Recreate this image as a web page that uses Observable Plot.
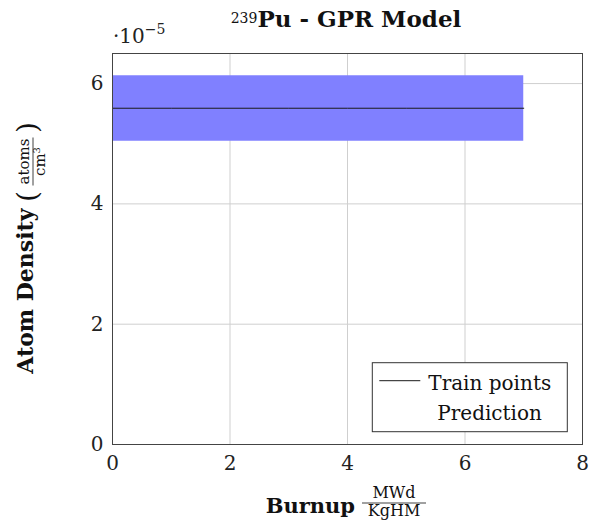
<!DOCTYPE html>
<html>
<head>
<meta charset="utf-8">
<script src="https://cdn.jsdelivr.net/npm/d3@7"></script>
<script src="https://cdn.jsdelivr.net/npm/@observablehq/plot@0.6"></script>
<style>
  html, body { margin: 0; padding: 0; background: #fff; }
  #chart svg { display: block; }
</style>
</head>
<body>
<div id="chart"></div>
<script>
// ---- data ----
const burnup = [0, 1, 2, 3, 4, 5, 6, 7];
const meanDensity  = [5.59e-5, 5.59e-5, 5.59e-5, 5.59e-5, 5.59e-5, 5.59e-5, 5.59e-5, 5.59e-5];
const lowerDensity = [5.04e-5, 5.04e-5, 5.04e-5, 5.04e-5, 5.04e-5, 5.04e-5, 5.04e-5, 5.04e-5];
const upperDensity = [6.13e-5, 6.13e-5, 6.13e-5, 6.13e-5, 6.13e-5, 6.13e-5, 6.13e-5, 6.13e-5];
const xTicks = [0, 2, 4, 6, 8];
const yTicks = [0, 2e-5, 4e-5, 6e-5];
const yTickLabels = ["0", "2", "4", "6"];
const legendLabels = ["Train points", "Prediction"];

const rows = burnup.map((b, i) => ({burnup: b, mean: meanDensity[i], lo: lowerDensity[i], hi: upperDensity[i]}));

const W = 589, H = 521;
const mL = 112, mR = 7, mT = 53, mB = 77;
const serif = "DejaVu Serif";

const fig = Plot.plot({
  width: W, height: H,
  marginLeft: mL, marginRight: mR, marginTop: mT, marginBottom: mB,
  style: {fontFamily: serif, fontSize: "20px", color: "#222", background: "#fff"},
  x: {domain: [0, 8]},
  y: {domain: [0, 6.5e-5]},
  marks: [
    Plot.gridX(xTicks, {stroke: "#cfcfcf", strokeOpacity: 1}),
    Plot.gridY(yTicks, {stroke: "#cfcfcf", strokeOpacity: 1}),
    Plot.areaY(rows, {x: "burnup", y1: "lo", y2: "hi", fill: "#8080ff", fillOpacity: 1}),
    Plot.lineY(rows, {x: "burnup", y: "mean", stroke: "#1a1a1a", strokeWidth: 1}),
    Plot.frame({stroke: "#444", strokeWidth: 1}),
    Plot.axisX({ticks: xTicks, tickSize: 0, tickPadding: 11, label: null, fontSize: 20, tickFormat: d => String(d)}),
    Plot.axisY({ticks: yTicks, tickSize: 0, tickPadding: 9, label: null, fontSize: 20,
      tickFormat: d => yTickLabels[yTicks.indexOf(d)]})
  ]
});
document.getElementById("chart").appendChild(fig);

const svg = d3.select(fig);
const xs = fig.scale("x"), ys = fig.scale("y");
const pLeft = xs.apply(0), pRight = xs.apply(8), pTop = ys.apply(6.5e-5), pBottom = ys.apply(0);
const cx = (pLeft + pRight) / 2, cy = (pTop + pBottom) / 2;

// Title
const title = svg.append("text").attr("x", cx - 1).attr("y", 27).attr("text-anchor", "middle")
  .attr("font-family", serif).attr("fill", "#111");
title.append("tspan").attr("font-size", 14).attr("dy", -4).text("239");
title.append("tspan").attr("font-size", 23).attr("font-weight", "bold").attr("dy", 4).text("Pu - GPR Model");

// exponent label
const ex = svg.append("text").attr("x", pLeft + 1).attr("y", 43).attr("text-anchor", "start")
  .attr("font-family", serif).attr("fill", "#222");
ex.append("tspan").attr("font-size", 20).text("·10");
ex.append("tspan").attr("font-size", 14).attr("dy", -9).text("−5");

// x label
const xl = svg.append("g").attr("font-family", serif).attr("fill", "#111");
xl.append("text").attr("x", cx + 8).attr("y", 513).attr("text-anchor", "end")
  .attr("font-size", 21).attr("font-weight", "bold").text("Burnup");
xl.append("text").attr("x", cx + 47).attr("y", 498).attr("text-anchor", "middle").attr("font-size", 16).text("MWd");
xl.append("line").attr("x1", cx + 15).attr("x2", cx + 79).attr("y1", 503).attr("y2", 503).attr("stroke", "#111").attr("stroke-width", 0.8);
xl.append("text").attr("x", cx + 47).attr("y", 516).attr("text-anchor", "middle").attr("font-size", 16).text("KgHM");

// y label
const yl = svg.append("g").attr("transform", `translate(33,${cy}) rotate(-90)`).attr("font-family", serif).attr("fill", "#111");
yl.append("text").attr("x", 40).attr("y", 0).attr("text-anchor", "end")
  .attr("font-size", 22).attr("font-weight", "bold").text("Atom Density");
yl.append("text").attr("x", 52).attr("y", 4).attr("text-anchor", "middle").attr("font-size", 28).attr("font-weight", "200").text("(");
yl.append("text").attr("x", 121).attr("y", 4).attr("text-anchor", "middle").attr("font-size", 28).attr("font-weight", "200").text(")");
yl.append("text").attr("x", 87).attr("y", -4).attr("text-anchor", "middle").attr("font-size", 15).text("atoms");
yl.append("line").attr("x1", 63).attr("x2", 111).attr("y1", 0).attr("y2", 0).attr("stroke", "#111").attr("stroke-width", 0.8);
const den = yl.append("text").attr("x", 87).attr("y", 12).attr("text-anchor", "middle").attr("font-size", 15);
den.append("tspan").text("cm");
den.append("tspan").attr("font-size", 10).attr("dy", -5).text("3");

// legend
const lgR = pRight - 14.7, lgB = pBottom - 12.3, lgW = 195, lgH = 69;
const lg = svg.append("g").attr("font-family", serif).attr("text-anchor", "start");
lg.append("rect").attr("x", lgR - lgW).attr("y", lgB - lgH).attr("width", lgW).attr("height", lgH)
  .attr("fill", "#fff").attr("stroke", "#333").attr("stroke-width", 1);
lg.append("line").attr("x1", lgR - lgW + 7).attr("x2", lgR - lgW + 48).attr("y1", lgB - lgH + 18).attr("y2", lgB - lgH + 18)
  .attr("stroke", "#1a1a1a").attr("stroke-width", 1);
lg.append("text").attr("x", lgR - lgW + 56).attr("y", lgB - lgH + 27).attr("font-size", 20).attr("fill", "#111").text(legendLabels[0]);
lg.append("text").attr("x", lgR - lgW + 65).attr("y", lgB - lgH + 57).attr("font-size", 20).attr("fill", "#111").text(legendLabels[1]);
</script>
</body>
</html>
